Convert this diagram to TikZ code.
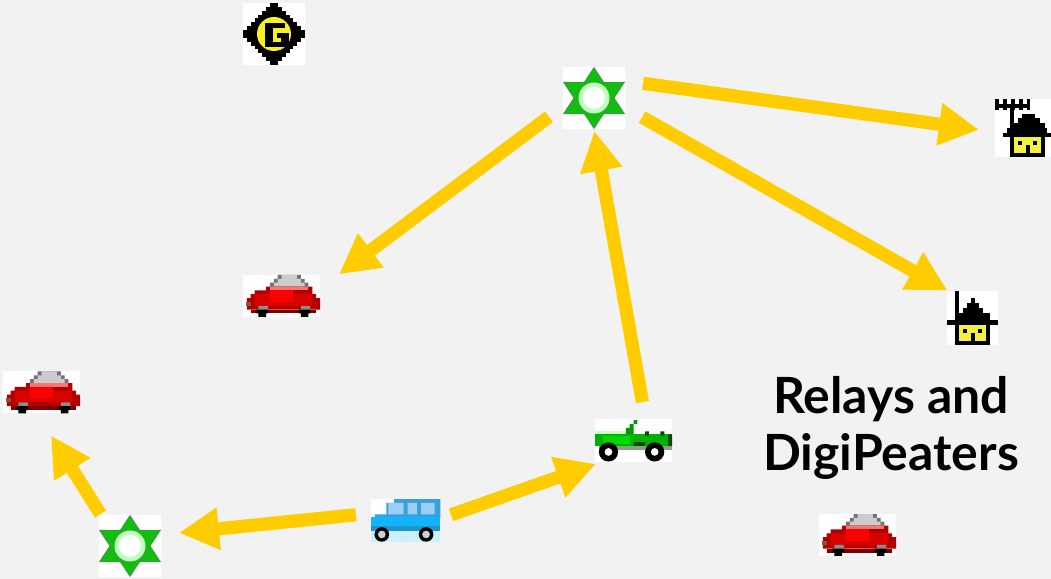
\documentclass[tikz,border=0pt]{standalone}
\usepackage{fontspec}
\setmainfont{Lato}
\usetikzlibrary{arrows.meta}

\definecolor{bggrey}{HTML}{F2F2F2}
\definecolor{relayyellow}{HTML}{FFCC00}
\definecolor{stargreen}{HTML}{10BE10}
\definecolor{starrim}{HTML}{35A035}
\definecolor{gateyellow}{HTML}{F8F020}
\definecolor{houseyellow}{HTML}{F4F040}
\definecolor{vanroof}{HTML}{3AA0DC}
\definecolor{vanglass}{HTML}{9CCFF5}
\definecolor{vanbody}{HTML}{10B4FF}
\definecolor{vanskirt}{HTML}{2096C8}

% small pixel icons, drawn from the top left corner of their node
\tikzset{iconscope/.style={shift={(#1.north west)},x=.025cm,y=-.025cm},
  gridscope/.style={shift={(#1.north west)},x=.09625cm,y=-.09625cm}}

\newcommand{\gateicon}[1]{
  \begin{scope}[iconscope=#1]
    \foreach \i in {0,...,7}
      \fill[black] (27.1-\i*3.875,\i*3.875) rectangle (34.9+\i*3.875,62-\i*3.875);
    \fill[gateyellow] (31,31) circle (17);
    \foreach \a/\b/\c/\d in {22/20/30/44, 22/20/42/25, 34/30/46/35, 38/30/46/42, 22/39/46/44}
      \fill[black] (\a,\b) rectangle (\c,\d);
  \end{scope}}

\newcommand{\staricon}[1]{
  \begin{scope}[iconscope=#1]
    \fill[stargreen,draw=starrim,line width=.03cm] (31,1) -- (61,46.5) -- (1,46.5) -- cycle;
    \fill[stargreen,draw=starrim,line width=.03cm] (31,61) -- (61,15.5) -- (1,15.5) -- cycle;
    \fill[green!25] (31,31) circle (15.5);
    \fill[white] (31,31) circle (11);
  \end{scope}}

\newcommand{\housebody}[5]{% wall left, wall right, wall top, wall bottom, door middle
  \fill[black] (#1,#3) rectangle (#2,#4);
  \fill[houseyellow] (#1+4,#3) rectangle (#2-4,#4-4);
  \fill[black] (#1+8,#3+4) rectangle (#1+12,#3+8);
  \fill[black] (#2-12,#3+4) rectangle (#2-8,#3+8);
  \fill[black] (#5-2,#3+8) rectangle (#5+2,#4-4);}

\newcommand{\houseicon}[1]{
  \begin{scope}[iconscope=#1]
    \foreach \a/\b/\c/\d in {8/0/12/30, 24/7/28/13, 20/12/32/18, 16/17/36/23, 8/22/43/30, 0/29/51/34}
      \fill[black] (\a,\b) rectangle (\c,\d);
    \housebody{8}{43}{34}{54}{25.5}
  \end{scope}}

\newcommand{\yagihouseicon}[1]{
  \begin{scope}[iconscope=#1]
    \foreach \a/\b/\c/\d in {0/5/35/9, 0/0/4/11, 8/0/12/11, 16/0/20/11, 24/0/28/11, 32/0/35/11,
        15/9/19/36, 27/15/40/20, 23/19/45/25, 16/24/50/30, 12/29/52/35, 8/34/56/38}
      \fill[black] (\a,\b) rectangle (\c,\d);
    \housebody{15}{50}{38}{58}{32.5}
  \end{scope}}

\newcommand{\caricon}[1]{
  \begin{scope}[gridscope=#1]
    \fill[black!55] (9,0) rectangle (15,1) (8,1) rectangle (16,2) (7,2) rectangle (17,3);
    \fill[black!20] (10,0) rectangle (14,1) (9,1) rectangle (15,2) (8,2) rectangle (16,3);
    \fill[red!70!black] (6,3) rectangle (18,4) (3,4) rectangle (18,5) (2,5) rectangle (19,6) (1,6) rectangle (20,9);
    \fill[red!55!white] (7,3) rectangle (17,4);
    \fill[red!85!black] (3,5) rectangle (18,8);
    \fill[red] (7,4) rectangle (13,7);
    \fill[brown!70!black] (0.8,7) rectangle (2,8);
    \fill[red!50!black] (2,9) rectangle (19,10);
    \fill[black!45] (4,8) rectangle (6.5,9) (15,8) rectangle (17.5,9);
    \fill[black] (3.5,9) rectangle (6.5,10) (14.5,9) rectangle (17.5,10) (4,10) rectangle (6,10.9) (15,10) rectangle (17,10.9);
  \end{scope}}

\newcommand{\vanicon}[1]{
  \begin{scope}[gridscope=#1]
    \fill[cyan!20] (0,8) rectangle (18,11.15);
    \fill[vanroof] (6,0) rectangle (18,1) (4,1) rectangle (18,4) (1,4) rectangle (18,5) (0,5) rectangle (1,7);
    \fill[vanglass] (4.5,1) rectangle (8.5,4) (9.5,1) rectangle (12,4) (13,1) rectangle (16.5,4);
    \fill[vanbody] (0,4.6) rectangle (18,7);
    \fill[vanskirt] (0,7) rectangle (18,8.2);
    \fill[black] (2.8,9.2) circle (1.9) (14.3,9.2) circle (1.9);
    \fill[cyan!25!black!25] (2.8,9.2) circle (1) (14.3,9.2) circle (1);
  \end{scope}}

\newcommand{\jeepicon}[1]{
  \begin{scope}[gridscope=#1]
    \fill[green!20!white] (0,3.2) rectangle (8,4.3);
    \fill[green!60!black] (10,0.3) rectangle (11,1.3) (9,1.3) rectangle (10,2.3) (8,2.3) rectangle (10,4);
    \fill[green!70!black] (0,4) rectangle (20,7);
    \fill[green!85!black] (2,4.5) rectangle (9,6.5);
    \fill[green!30!black] (19,4) rectangle (20,7) (10,6) rectangle (13,7) (13,3.2) rectangle (14,4.3) (17,3.2) rectangle (18,4.3);
    \fill[green!30!black!50] (1,7) rectangle (20,8);
    \fill[black] (3.5,8.55) circle (2.5) (15.5,8.55) circle (2.5);
    \fill[white] (3.5,8.55) circle (1) (15.5,8.55) circle (1);
  \end{scope}}

\begin{document}
\begin{tikzpicture}
  \tikzstyle{every icon}=[fill=white,draw=none,inner sep=0pt,outer sep=0pt]
  \tikzstyle{gatenode}=[every icon,minimum width=1.55cm,minimum height=1.55cm]
  \tikzstyle{starnode}=[every icon,minimum width=1.55cm,minimum height=1.55cm]
  \tikzstyle{housenode}=[every icon,minimum width=1.275cm,minimum height=1.35cm]
  \tikzstyle{yaginode}=[every icon,minimum width=1.4cm,minimum height=1.45cm]
  \tikzstyle{carnode}=[every icon,minimum width=1.925cm,minimum height=1.05cm]
  \tikzstyle{vannode}=[every icon,minimum width=1.725cm,minimum height=1.075cm]
  \tikzstyle{jeepnode}=[every icon,minimum width=1.925cm,minimum height=1.075cm]
  \tikzstyle{relay}=[draw=relayyellow,line width=.33cm,-{Triangle[length=1cm,width=1cm]}]

  \fill[bggrey] (0,0) rectangle (26.275,-14.475);

  \node[gatenode] (gate) at (6.85,-0.85) {};
  \node[starnode] (star1) at (14.85,-2.45) {};
  \node[starnode] (star2) at (3.25,-13.65) {};
  \node[yaginode] (house1) at (25.575,-3.2) {};
  \node[housenode] (house2) at (24.3125,-7.95) {};
  \node[carnode] (car1) at (7.0375,-7.4) {};
  \node[carnode] (car2) at (1.0375,-9.8125) {};
  \node[carnode] (car3) at (21.4375,-13.375) {};
  \node[vannode] (van) at (10.1375,-13.0125) {};
  \node[jeepnode] (jeep) at (15.8375,-11.0125) {};

  \gateicon{gate}
  \staricon{star1}
  \staricon{star2}
  \yagihouseicon{house1}
  \houseicon{house2}
  \caricon{car1}
  \caricon{car2}
  \caricon{car3}
  \vanicon{van}
  \jeepicon{jeep}

  \node[font=\fontsize{35.5}{41}\selectfont\bfseries,align=center] (caption) at (22.275,-10.7)
    {Relays and\\ DigiPeaters};

  \path (star1.29) edge[relay,shorten <=.455cm,shorten >=.405cm] (house1.188);
  \path (star1.-17) edge[relay,shorten <=.49cm,shorten >=.02cm] (house2.132);
  \path (star1.195) edge[relay,shorten <=.44cm,shorten >=.59cm] (car1.11);
  \path (jeep.61) edge[relay,shorten <=.43cm,shorten >=.05cm] (star1.south);
  \path (van.3) edge[relay,shorten <=.29cm,shorten >=.15cm] (jeep.214);
  \path (van.168) edge[relay,shorten <=.38cm,shorten >=.45cm] (star2.20);
  \path (star2.133) edge[relay,shorten <=.03cm,shorten >=.65cm] (car2.258);
\end{tikzpicture}
\end{document}
